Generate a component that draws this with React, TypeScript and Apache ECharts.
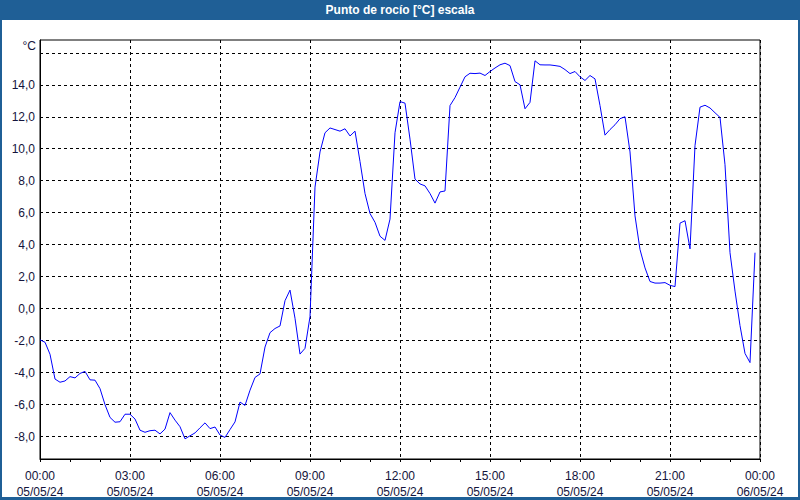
import React, { useEffect, useRef } from "react";
import * as echarts from "echarts";

const TITLE = "Punto de rocío [°C] escala";
const UNIT = "°C";
const STEP_MINUTES = 10;

// Dew point readings every 10 minutes from 05/05/24 00:00
const dewPoint: number[] = [
  -1.95, -2.1, -2.85, -4.4, -4.6, -4.52, -4.25, -4.33, -4.05, -3.92,
  -4.45, -4.47, -5.0, -6.0, -6.8, -7.1, -7.07, -6.6, -6.6, -6.9,
  -7.6, -7.73, -7.63, -7.6, -7.83, -7.53, -6.5, -6.97, -7.38, -8.14,
  -7.95, -7.77, -7.45, -7.14, -7.5, -7.4, -7.9, -8.05, -7.56, -7.08,
  -5.84, -6.05, -5.1, -4.3, -4.08, -2.4, -1.5, -1.24, -1.08, 0.5,
  1.16, -0.6, -2.84, -2.48, -0.5, 7.6, 9.8, 11.0, 11.3, 11.2,
  11.1, 11.25, 10.8, 11.1, 9.2, 7.2, 5.95, 5.4, 4.53, 4.27,
  5.6, 11.0, 12.95, 12.85, 10.6, 8.1, 7.8, 7.68, 7.2, 6.6,
  7.3, 7.36, 12.7, 13.2, 13.85, 14.5, 14.72, 14.7, 14.73, 14.58,
  14.83, 15.05, 15.25, 15.35, 15.2, 14.2, 14.0, 12.5, 12.9, 15.5,
  15.25, 15.24, 15.24, 15.2, 15.15, 14.95, 14.7, 14.83, 14.5, 14.27,
  14.58, 14.37, 12.7, 10.85, 11.2, 11.5, 11.88, 12.0, 9.8, 5.8,
  3.7, 2.55, 1.7, 1.6, 1.6, 1.63, 1.46, 1.38, 5.35, 5.5,
  3.74, 10.2, 12.6, 12.72, 12.55, 12.25, 11.96, 9.0, 3.5, 1.1,
  -1.06, -2.8, -3.37, 3.5,
];

const yGridLines: number[] = [-8, -6, -4, -2, 0, 2, 4, 6, 8, 10, 12, 14, 16];
const yLabelled: number[] = [-8, -6, -4, -2, 0, 2, 4, 6, 8, 10, 12, 14];
const xTickHours: number[] = [0, 3, 6, 9, 12, 15, 18, 21, 24];
const xTimeLabels: string[] = ["00:00", "03:00", "06:00", "09:00", "12:00", "15:00", "18:00", "21:00", "00:00"];
const xDateLabels: string[] = ["05/05/24", "05/05/24", "05/05/24", "05/05/24", "05/05/24", "05/05/24", "05/05/24", "05/05/24", "06/05/24"];

const FONT = "'Liberation Sans', Arial, sans-serif";
const LABEL_COLOR = "#14143c";
const FRAME_BLUE = "#1f5f96";

export default function App() {
  const ref = useRef<HTMLDivElement>(null);

  useEffect(() => {
    if (!ref.current) return;
    const chart = echarts.init(ref.current, undefined, { renderer: "svg" });
    const data = dewPoint.map((v, i) => [(i * STEP_MINUTES) / 60, v]);

    chart.setOption({
      animation: false,
      backgroundColor: "#ffffff",
      grid: {
        left: 40,
        right: 40,
        top: 40,
        bottom: 40,
        show: true,
        borderColor: "#000",
        borderWidth: 1,
        backgroundColor: "transparent",
      },
      xAxis: {
        type: "value",
        min: 0,
        max: 24,
        interval: 3,
        axisLine: { show: true, onZero: false, lineStyle: { color: "#000", width: 1 } },
        axisTick: { show: true, length: 3, lineStyle: { color: "#000" } },
        minorTick: { show: true, splitNumber: 3, length: 3, lineStyle: { color: "#000" } },
        splitLine: { show: true, lineStyle: { color: "#000", type: [3, 3], width: 1 } },
        axisLabel: {
          margin: 9,
          color: LABEL_COLOR,
          fontFamily: FONT,
          fontSize: 12,
          lineHeight: 16,
          showMinLabel: true,
          showMaxLabel: true,
          formatter: (val: number) => {
            const idx = xTickHours.indexOf(Math.round(val));
            if (idx < 0) return "";
            return xTimeLabels[idx] + "\n" + xDateLabels[idx];
          },
        },
      },
      yAxis: {
        type: "value",
        min: -9.4,
        max: 16.8,
        axisLine: { show: true, onZero: false, lineStyle: { color: "#000", width: 1 } },
        axisTick: { show: false },
        axisLabel: { show: false },
        splitLine: { show: false },
      },
      graphic: [
        { type: "rect", shape: { x: 0, y: 0, width: 800, height: 20 }, style: { fill: FRAME_BLUE }, z: 10 },
        { type: "rect", shape: { x: 0, y: 20, width: 2, height: 480 }, style: { fill: FRAME_BLUE }, z: 10 },
        { type: "rect", shape: { x: 798, y: 20, width: 2, height: 480 }, style: { fill: FRAME_BLUE }, z: 10 },
        { type: "rect", shape: { x: 0, y: 497, width: 800, height: 3 }, style: { fill: FRAME_BLUE }, z: 10 },
        {
          type: "text",
          x: 400,
          y: 10,
          z: 11,
          style: {
            text: TITLE,
            fill: "#ffffff",
            font: `bold 12px ${FONT}`,
            align: "center",
            verticalAlign: "middle",
          },
        },
        {
          type: "text",
          x: 36,
          y: 46,
          z: 11,
          style: {
            text: UNIT,
            fill: LABEL_COLOR,
            font: `12px ${FONT}`,
            align: "right",
            verticalAlign: "middle",
          },
        },
      ],
      series: [
        {
          type: "line",
          data,
          showSymbol: false,
          symbol: "none",
          lineStyle: { color: "#0000ff", width: 1 },
          z: 5,
          markLine: {
            silent: true,
            symbol: "none",
            animation: false,
            lineStyle: { color: "#000", type: [3, 3], width: 1 },
            label: {
              show: true,
              position: "start",
              distance: 5,
              color: LABEL_COLOR,
              fontFamily: FONT,
              fontSize: 12,
              formatter: (p: any) => Number(p.value).toFixed(1).replace(".", ","),
            },
            emphasis: { disabled: true },
            data: yGridLines.map((v) => ({
              yAxis: v,
              label: { show: yLabelled.indexOf(v) >= 0 },
            })),
            z: 1,
          },
        },
      ],
    });

    return () => chart.dispose();
  }, []);

  return (
    <div
      ref={ref}
      style={{ position: "fixed", left: 0, top: 0, width: 800, height: 500 }}
    />
  );
}
